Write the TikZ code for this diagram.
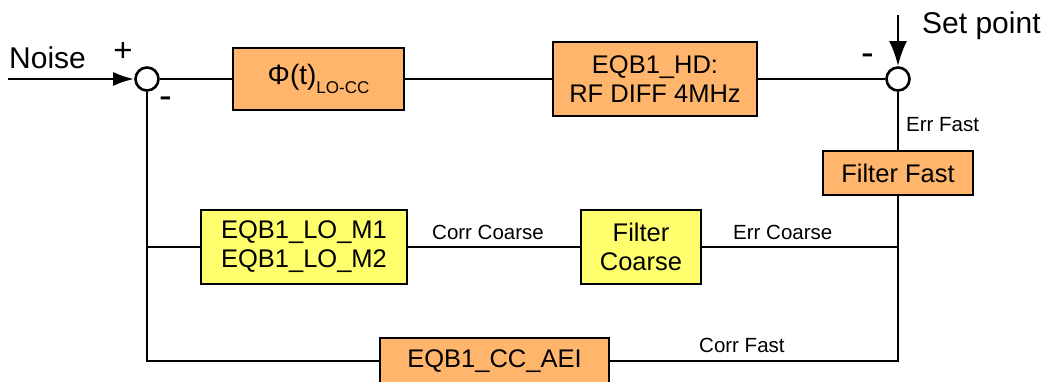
\documentclass[tikz,border=0pt]{standalone}
\usepackage{fontspec}
\setmainfont{Liberation Sans}
\usepackage{tikz}
\usetikzlibrary{shapes,arrows.meta,positioning}
\definecolor{boxorange}{HTML}{FFB66C}
\definecolor{boxyellow}{HTML}{FFFF6D}
\tikzstyle{block} = [draw, line width=2.6pt, inner sep=0pt, align=center, font=\fontsize{25.5}{29}\selectfont]
\tikzstyle{sum} = [draw, circle, fill=white, line width=2.6pt, minimum size=23pt, inner sep=0pt]
\tikzstyle{line} = [draw, line width=2.7pt]
\tikzstyle{arrow} = [line, -{Latex[length=21pt,width=14pt]}]
\tikzstyle{lbl} = [inner sep=0pt, anchor=base west, font=\fontsize{20.5}{24}\selectfont]
\tikzstyle{sign} = [inner sep=0pt, font=\fontsize{38}{40}\selectfont]

\begin{document}
\begin{tikzpicture}[x=1pt,y=-1pt]
\useasboundingbox (0,0) rectangle (1051,382);
%
\node[sum] (sumA) at (147,79) {};
\node[sum] (sumB) at (898,79) {};
\node[block, fill=boxorange, minimum width=171pt, minimum height=62pt] (phi) at (318.5,79)
  {\fontsize{28}{30}\selectfont Φ(t)\raisebox{-9pt}{\fontsize{17}{20}\selectfont LO-CC}};
\node[block, fill=boxorange, minimum width=204pt, minimum height=74pt] (hd) at (655,79) {EQB1\_HD:\\RF DIFF 4MHz};
\node[block, fill=boxorange, minimum width=150pt, minimum height=44pt] (fast) at (898,173) {Filter Fast};
\node[block, fill=boxyellow, minimum width=206pt, minimum height=74pt] (lo) at (304,247) {EQB1\_LO\_M1\\EQB1\_LO\_M2};
\node[block, fill=boxyellow, minimum width=120pt, minimum height=74pt] (coarse) at (641,247) {Filter\\Coarse};
\node[block, fill=boxorange, minimum width=229pt, minimum height=46pt] (aei) at (494.5,361) {EQB1\_CC\_AEI};
%
\coordinate (noisein) at (8,79);
\coordinate (setin) at (898,15);
\node[anchor=base west, inner sep=0pt, font=\fontsize{30}{32}\selectfont] (noise) at (9,69) {Noise};
\node[anchor=base west, inner sep=0pt, font=\fontsize{30}{32}\selectfont] (setpoint) at (922,34) {Set point};
\node[sign, font=\fontsize{33}{34}\selectfont] (plusA) at (123,52) {+};
\node[sign] (minusA) at (166,103) {-};
\node[sign] (minusB) at (868,60) {-};
\node[lbl] (errfast) at (906,132) {Err Fast};
\node[lbl] (corrcoarse) at (432,239) {Corr Coarse};
\node[lbl] (errcoarse) at (733,239) {Err Coarse};
\node[lbl] (corrfast) at (699,352) {Corr Fast};
%
\path[arrow] (noisein) -- (sumA);
\path[line, -{Latex[length=25pt,width=18pt]}] (setin) -- (sumB);
\path[line] (sumA) -- (phi);
\path[line] (phi) -- (hd);
\path[line] (hd) -- (sumB);
\path[line] (sumB) -- (fast);
\path[line] (fast.south) |- (aei.east);
\path[line] (sumA) |- (aei.west);
\path[line] (lo.west -| sumA) -- (lo.west);
\path[line] (lo) -- (coarse);
\path[line] (coarse.east) -- (coarse.east -| fast.south);
\end{tikzpicture}
\end{document}
